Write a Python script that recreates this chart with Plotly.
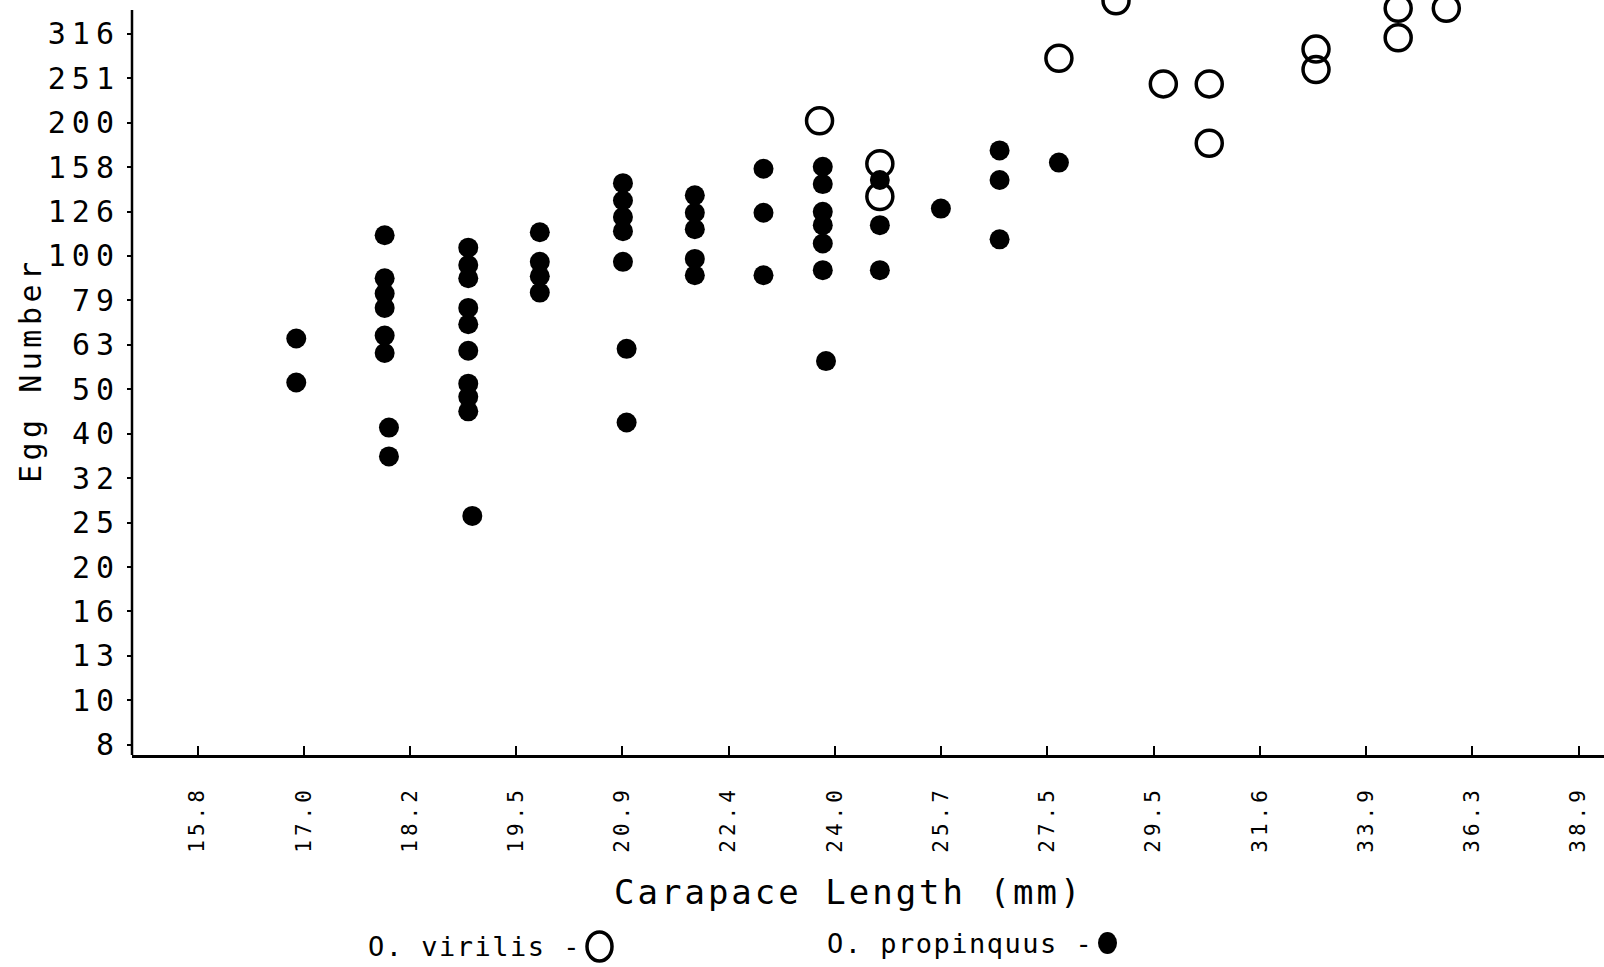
import plotly.graph_objects as go

# ---------------- data ----------------
x_tick_labels = ["15.8", "17.0", "18.2", "19.5", "20.9", "22.4", "24.0", "25.7",
                 "27.5", "29.5", "31.6", "33.9", "36.3", "38.9"]
y_tick_labels = ["8", "10", "13", "16", "20", "25", "32", "40", "50", "63", "79",
                 "100", "126", "158", "200", "251", "316"]

propinquus_x = [16.9, 16.9,
                17.9, 17.9, 17.9, 17.9, 17.9, 17.9, 17.95, 17.95,
                18.9, 18.9, 18.9, 18.9, 18.9, 18.9, 18.9, 18.9, 18.9, 18.95,
                19.8, 19.8, 19.8, 19.8,
                20.9, 20.9, 20.9, 20.9, 20.9, 20.95, 20.95,
                21.9, 21.9, 21.9, 21.9, 21.9,
                22.9, 22.9, 22.9,
                23.8, 23.8, 23.8, 23.8, 23.8, 23.8, 23.85,
                24.7, 24.7, 24.7,
                25.7,
                26.7, 26.7, 26.7,
                27.75]
propinquus_y = [65.2, 51.9,
                111.3, 89.1, 82.3, 76.4, 66.2, 60.5, 41.1, 35.4,
                104.4, 95.4, 89.1, 76.4, 70.2, 61.2, 51.6, 48.2, 44.7, 26.0,
                113.1, 97.0, 90.0, 82.7,
                145.8, 133.3, 122.4, 113.7, 97.0, 61.8, 42.2,
                136.9, 125.1, 114.9, 98.5, 90.5,
                157.1, 125.1, 90.5,
                158.8, 145.1, 125.7, 117.3, 106.7, 92.9, 58.0,
                148.2, 117.3, 92.9,
                127.8,
                172.8, 148.2, 109.0,
                162.2]

virilis_x = [23.75, 24.7, 24.7, 27.75, 28.8, 29.7, 30.6, 30.6, 32.8, 32.8, 34.6, 34.6, 35.7]
virilis_y = [201.5, 161.3, 136.1, 278.5, 375.0, 243.9, 243.9, 179.3, 292.1, 262.7, 361.0, 309.7, 361.0]

# ---------------- figure ----------------
W, H = 1604, 967
ML, MR, MT, MB = 132, 0, 0, 212
PW, PH = W - ML - MR, H - MT - MB


def px(xp):
    return (xp - ML) / PW


def py(yp):
    return (H - MB - yp) / PH


def spaced(t, s):
    return '<span style="letter-spacing:%spx">%s</span>' % (s, t)


x_tickvals = [10 ** (1.2 + 0.03 * i) for i in range(len(x_tick_labels))]
y_tickvals = [10 ** (0.9 + 0.1 * i) for i in range(len(y_tick_labels))]

FONT = "DejaVu Sans Mono"

fig = go.Figure()
fig.add_trace(go.Scatter(
    x=propinquus_x, y=propinquus_y, mode="markers", name="O. propinquus",
    marker=dict(symbol="circle", size=20, color="black", line=dict(width=0)),
    cliponaxis=False, hoverinfo="skip"))
fig.add_trace(go.Scatter(
    x=virilis_x, y=virilis_y, mode="markers", name="O. virilis",
    marker=dict(symbol="circle-open", size=26, color="black", line=dict(width=3.5)),
    cliponaxis=False, hoverinfo="skip"))

fig.update_layout(
    width=W, height=H, autosize=False,
    margin=dict(l=ML, r=MR, t=MT, b=MB, pad=0),
    paper_bgcolor="white", plot_bgcolor="white",
    showlegend=False, hovermode=False,
    font=dict(family=FONT, color="black"),
    xaxis=dict(
        type="log", range=[1.1815, 1.5972],
        tickvals=x_tickvals, ticktext=[spaced(t, 4) for t in x_tick_labels],
        tickangle=-90, ticks="inside", ticklen=9, tickwidth=2, tickcolor="black",
        showline=True, linewidth=2.5, linecolor="black",
        showgrid=False, zeroline=False,
        tickfont=dict(family=FONT, size=21, color="black"),
        ticklabelstandoff=20,
    ),
    yaxis=dict(
        type="log", range=[0.877, 2.576],
        tickvals=y_tickvals, ticktext=[spaced(t, 6) for t in y_tick_labels],
        ticks="outside", ticklen=4, tickwidth=1.5, tickcolor="black",
        showline=False,
        showgrid=False, zeroline=False,
        tickfont=dict(family=FONT, size=30, color="black"),
        ticklabelstandoff=1,
    ),
)

# vertical axis line (stops a little below the top, as in the original)
fig.add_shape(type="line", xref="paper", yref="paper",
              x0=0, x1=0, y0=0, y1=py(10),
              line=dict(color="black", width=2.5))

fig.add_annotation(text=spaced("Egg Number", 4.5), xref="paper", yref="paper",
                   x=px(31), y=py(370), textangle=-90, showarrow=False,
                   font=dict(family=FONT, size=30, color="black"),
                   xanchor="center", yanchor="middle")
fig.add_annotation(text=spaced("Carapace Length (mm)", 3), xref="paper", yref="paper",
                   x=px(848), y=py(892), showarrow=False,
                   font=dict(family=FONT, size=34, color="black"),
                   xanchor="center", yanchor="middle")

# legend-like labels
fig.add_annotation(text=spaced("O. virilis -", 1.5), xref="paper", yref="paper",
                   x=px(583), y=py(946), showarrow=False,
                   font=dict(family=FONT, size=27, color="black"),
                   xanchor="right", yanchor="middle")
fig.add_shape(type="circle", xref="paper", yref="paper",
              x0=px(587), x1=px(612), y0=py(961), y1=py(932),
              line=dict(color="black", width=3.5), fillcolor="white")
fig.add_annotation(text=spaced("O. propinquus -", 1.5), xref="paper", yref="paper",
                   x=px(1095), y=py(943), showarrow=False,
                   font=dict(family=FONT, size=27, color="black"),
                   xanchor="right", yanchor="middle")
fig.add_shape(type="circle", xref="paper", yref="paper",
              x0=px(1098), x1=px(1117), y0=py(954), y1=py(932),
              line=dict(color="black", width=0), fillcolor="black")

fig.write_html("out.html", config={"displayModeBar": False},
               post_script="document.body.style.margin='0px';")
